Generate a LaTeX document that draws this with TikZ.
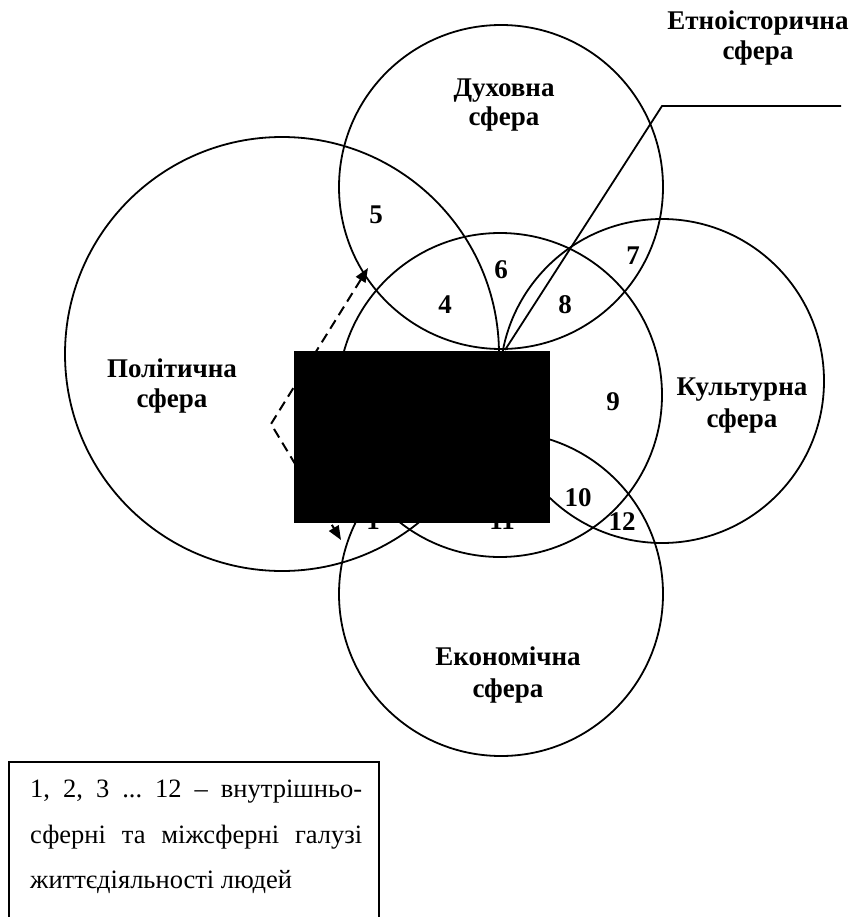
\documentclass[tikz,border=0pt]{standalone}
\usepackage{fontspec}
\setmainfont{Liberation Serif}
\usetikzlibrary{arrows.meta}
\frenchspacing
\begin{document}
\begin{tikzpicture}[x=1pt,y=-1pt,
  sphere/.style={circle, draw, line width=1.8pt, inner sep=0pt},
  lbl/.style={font=\fontsize{27}{31}\selectfont\bfseries, anchor=base, inner sep=0pt},
  num/.style={font=\fontsize{27}{31}\selectfont\bfseries, inner sep=0pt},
  legendtxt/.style={font=\fontsize{26.5}{29}\selectfont, anchor=base west, inner sep=0pt},
  conn/.style={line width=1.8pt},
  dasharrow/.style={line width=2pt, dash pattern=on 10pt off 6pt, {Triangle[length=14pt,width=11pt]}-{Triangle[length=14pt,width=11pt]}}]
\useasboundingbox (0,0) rectangle (848,917);
\clip (0,0) rectangle (848,917);
% spheres
\node[sphere, minimum size=434pt] (P) at (282,354) {};
\node[sphere, minimum size=324pt] (S) at (501,187) {};
\node[sphere, minimum size=324pt] (C) at (500,395) {};
\node[sphere, minimum size=324pt] (K) at (662,381) {};
\node[sphere, minimum size=324pt] (E) at (501,594) {};
% labels
\node[lbl] (sl1) at (504,97) {Духовна};
\node[lbl] (sl2) at (504,126) {сфера};
\node[lbl] (el1) at (758,30) {Етноісторична};
\node[lbl] (el2) at (758,60) {сфера};
\node[lbl] (pl1) at (172,377) {Політична};
\node[lbl] (pl2) at (172,407) {сфера};
\node[lbl] (kl1) at (742,395) {Культурна};
\node[lbl] (kl2) at (742,427) {сфера};
\node[lbl] (ecl1) at (508,665) {Економічна};
\node[lbl] (ecl2) at (508,697) {сфера};
% numbers
\node[num] (n5) at (376,215) {5};
\node[num] (n6) at (501,270) {6};
\node[num] (n7) at (633,256) {7};
\node[num] (n4) at (445,305) {4};
\node[num] (n8) at (565,305) {8};
\node[num] (n9) at (613,402) {9};
\node[num] (n10) at (578,498) {10};
\node[num] (n12) at (622,522) {12};
\node[num] (n1) at (373,521) {1};
\node[num] (n11) at (502,521) {11};
% ethno-historical pointer
\coordinate (e1) at (841,106);
\coordinate (e2) at (662,106);
\coordinate (e3) at (505,350);
\draw[conn] (e1) -- (e2) -- (e3);
% dashed arrow
\coordinate (d1) at (368,268);
\coordinate (d2) at (271,424);
\coordinate (d3) at (341,540);
\draw[dasharrow] (d1) -- (d2) -- (d3);
% black box
\node[fill=black, draw=none, inner sep=0pt, minimum width=256pt, minimum height=172pt] (box) at (422,437) {};
% legend
\draw[line width=1.8pt] (9,930) -- (9,762) -- (379,762) -- (379,930);
\node[legendtxt] (lg1) at (30,797) {\makebox[332pt][s]{1, 2, 3 ... 12 – внутрішньо-}};
\node[legendtxt] (lg2) at (30,843) {\makebox[332pt][s]{сферні та міжсферні галузі}};
\node[legendtxt] (lg3) at (30,888) {життєдіяльності людей};
\end{tikzpicture}
\end{document}
